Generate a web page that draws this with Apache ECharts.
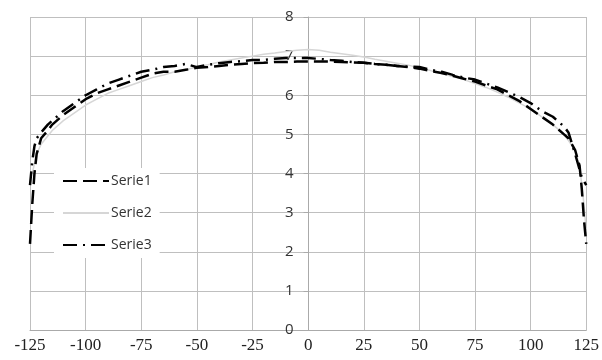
<!DOCTYPE html>
<html>
<head>
<meta charset="utf-8">
<script src="https://cdn.jsdelivr.net/npm/echarts@6/dist/echarts.min.js"></script>
<style>html,body{margin:0;padding:0;background:#fff}#c{width:602px;height:360px}</style>
</head>
<body>
<div id="c"></div>
<script>
const xTicks = [-125, -100, -75, -50, -25, 0, 25, 50, 75, 100, 125];
const xs1 = [-125,-124,-123,-122,-120,-117,-115,-110,-105,-100,-95,-90,-85,-80,-75,-70,-65,-60,-55,-50,-45,-40,-35,-30,-25,-20,-15,-10,-5,0,5,10,15,20,25,30,35,40,45,50,55,60,65,70,75,80,85,90,95,100,105,110,115,117,120,122,123,124,125];
const serie1 = [2.2,3.2,4.0,4.5,4.9,5.1,5.25,5.5,5.7,5.9,6.05,6.15,6.25,6.35,6.45,6.55,6.6,6.6,6.65,6.7,6.72,6.75,6.78,6.8,6.82,6.83,6.85,6.85,6.86,6.86,6.86,6.86,6.85,6.84,6.83,6.8,6.78,6.75,6.72,6.68,6.62,6.57,6.5,6.42,6.35,6.25,6.15,6.0,5.85,5.65,5.45,5.25,5.0,4.9,4.6,4.2,3.6,2.8,2.2];
const serie3 = [3.7,4.3,4.7,4.9,5.05,5.25,5.35,5.6,5.8,6.0,6.15,6.3,6.4,6.5,6.6,6.65,6.72,6.75,6.8,6.72,6.78,6.82,6.85,6.87,6.9,6.9,6.93,6.95,6.95,6.95,6.93,6.9,6.88,6.85,6.83,6.8,6.78,6.75,6.73,6.72,6.65,6.6,6.52,6.45,6.4,6.3,6.2,6.08,5.95,5.8,5.6,5.45,5.2,5.05,4.5,4.1,3.9,3.8,3.7];
const xs2 = [-124,-122,-120,-115,-110,-105,-100,-95,-90,-85,-80,-75,-70,-65,-60,-55,-50,-45,-40,-35,-30,-25,-20,-15,-10,-5,0,5,10,15,20,25,30,35,40,45,50,55,60,65,70,75,80,85,90,95,100,105,110,115,120,122,124,125];
const serie2 = [4.0,4.5,4.75,5.1,5.35,5.55,5.75,5.9,6.05,6.15,6.25,6.35,6.45,6.52,6.6,6.65,6.72,6.78,6.85,6.9,6.95,7.0,7.05,7.08,7.12,7.15,7.17,7.15,7.1,7.06,7.02,6.98,6.92,6.87,6.82,6.77,6.7,6.63,6.55,6.48,6.4,6.3,6.2,6.08,5.95,5.8,5.65,5.45,5.25,5.0,4.6,4.2,3.2,2.5];
const names = ['Serie1', 'Serie2', 'Serie3'];

const pair = (xs, ys) => xs.map((x, i) => [x, ys[i]]);
const chart = echarts.init(document.getElementById('c'), null, {renderer: 'canvas'});
chart.setOption({
  animation: false,
  backgroundColor: '#fff',
  grid: {left: 30, right: 15, top: 17, bottom: 30, containLabel: false},
  legend: {
    data: names,
    orient: 'vertical',
    left: 54, top: 168,
    backgroundColor: '#fff',
    padding: [6, 8, 6, 8],
    itemWidth: 46, itemHeight: 14, itemGap: 18,
    itemStyle: {opacity: 0},
    textStyle: {fontFamily: 'Open Sans', fontSize: 14, color: '#333', padding: [0, 0, 0, -3]}
  },
  xAxis: {
    type: 'value', min: -125, max: 125, interval: 25,
    axisLine: {show: true, onZero: true, lineStyle: {color: '#aaa'}},
    axisTick: {show: false},
    axisLabel: {fontFamily: 'Liberation Serif', fontSize: 17, color: '#222', margin: 7,
      formatter: v => xTicks.includes(v) ? String(v) : ''},
    splitLine: {show: true, lineStyle: {color: '#bfbfbf', width: 1}}
  },
  yAxis: {
    type: 'value', min: 0, max: 8, interval: 1,
    position: 'left',
    offset: -278.5,
    axisLine: {show: true, onZero: false, lineStyle: {color: '#aaa'}},
    axisTick: {show: true, inside: false, length: 5, lineStyle: {color: '#aaa'}},
    axisLabel: {fontFamily: 'Open Sans', fontSize: 15, color: '#333', margin: 15},
    splitLine: {show: true, lineStyle: {color: '#bfbfbf', width: 1}}
  },
  series: [
    {name: 'Serie2', type: 'line', data: pair(xs2, serie2), showSymbol: false, symbol: 'none',
      lineStyle: {color: '#d6d6d6', width: 1.5}, itemStyle: {color: '#d6d6d6'}, z: 2},
    {name: 'Serie1', type: 'line', data: pair(xs1, serie1), showSymbol: false, symbol: 'none',
      lineStyle: {color: '#000', width: 2.5, type: [14, 6]}, itemStyle: {color: '#000'}, z: 3},
    {name: 'Serie3', type: 'line', data: pair(xs1, serie3), showSymbol: false, symbol: 'none',
      lineStyle: {color: '#000', width: 2.5, type: [14, 6, 2, 6]}, itemStyle: {color: '#000'}, z: 4}
  ]
});
</script>
</body>
</html>
